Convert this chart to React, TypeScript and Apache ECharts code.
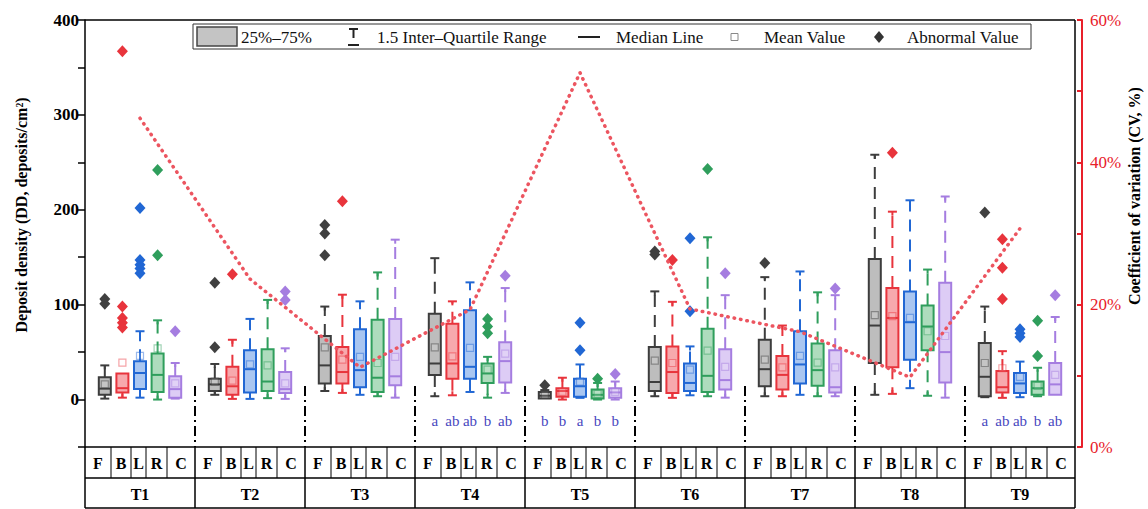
import React, { useEffect, useRef } from 'react';
import * as echarts from 'echarts';

// ---------------- data ----------------
const groups = ['T1', 'T2', 'T3', 'T4', 'T5', 'T6', 'T7', 'T8', 'T9'];
const subs = ['F', 'B', 'L', 'R', 'C'];

// each row: [low cap, Q1, median, Q3, high cap, mean]
const statsF = [
  [1, 5, 11.5, 23.5, 36, 16],
  [5, 9, 16, 22, 37.5, 19],
  [9, 17, 36, 67, 98, 55],
  [3.5, 26, 38, 90.5, 149, 55],
  [0.5, 1, 4, 8, 10, 5],
  [3.5, 9, 18.5, 55.5, 114, 41],
  [3.5, 14, 32, 63, 129, 42],
  [5, 38.5, 78, 148, 258, 89],
  [2.5, 3.5, 24, 59.5, 98, 38.5],
];
const statsB = [
  [2, 7.5, 12, 27.5, 27.5, 39],
  [0.7, 5, 14, 34.5, 63, 20],
  [7, 17, 29, 55.5, 110.5, 42],
  [4.5, 22, 38, 80, 103.5, 45.5],
  [0, 3, 9, 12, 23, 8],
  [1.8, 7, 29, 56, 103, 38.5],
  [3.5, 10.5, 26, 46, 78, 34],
  [6, 34, 86, 117.5, 198, 88],
  [1.8, 7.5, 13, 30, 51, 33],
];
const statsL = [
  [2, 11, 28, 40.5, 72, 46],
  [0.7, 7.5, 32, 52, 85, 37],
  [5, 13, 31, 74, 103.5, 45],
  [8, 22, 34.5, 94, 123.5, 54.5],
  [1.8, 3, 14, 22, 37, 19],
  [4.5, 9, 17.5, 38, 56, 31.5],
  [5, 17, 37, 72, 135, 46],
  [12, 42, 81.5, 114, 210, 86],
  [2.5, 7, 17, 28, 40, 24],
];
const statsR = [
  [0, 8, 26, 48.5, 83.5, 54],
  [1.5, 9, 19, 53, 105, 36],
  [3.5, 8, 23, 84, 134, 38.5],
  [2, 17.5, 27.5, 38, 45, 31.5],
  [0, 1, 5, 10.5, 17.5, 6],
  [3.5, 8, 25, 74.5, 171, 51.5],
  [3.5, 14.5, 31, 59, 113, 39],
  [4, 52, 77, 99, 137, 72],
  [3.5, 5, 12, 19, 33.5, 14.5],
];
const statsC = [
  [1, 2, 11, 24.5, 38.5, 17],
  [0.7, 7, 11, 29, 54, 17],
  [2, 15, 24.5, 85, 168.5, 45],
  [7, 18, 40.5, 60.5, 117.5, 48.5],
  [0, 2, 7.5, 12, 19, 8],
  [2, 10.5, 20.5, 53, 110, 34.5],
  [3.5, 7.5, 13, 52, 110, 34],
  [2, 18, 50, 123, 214, 67],
  [4.5, 5, 16, 38.5, 87, 26],
];

// abnormal values per group
const outF = [[106, 101], [123, 55], [184, 175, 152], [], [15], [156, 153], [144], [], [197]];
const outB = [[367, 98, 86, 81, 76], [132], [209], [], [], [147], [], [260], [169, 139, 106]];
const outL = [[202, 147, 142, 138, 133], [], [], [], [81, 52], [170, 93], [], [], [74, 70, 66]];
const outR = [[242, 152], [], [], [85, 77, 70], [22], [243], [], [], [83, 46]];
const outC = [[72], [114, 105], [], [130.5], [27], [133], [117], [], [110]];

// coefficient of variation (%) per group
const cvValues = [46.2, 23.6, 11.2, 19.3, 52.6, 19.4, 16.2, 9.8, 30.7];

// significance letters per group (F, B, L, R, C)
const sigLetters = [
  [], [], [],
  ['a', 'ab', 'ab', 'b', 'ab'],
  ['b', 'b', 'a', 'b', 'b'],
  [], [], [],
  ['a', 'ab', 'ab', 'b', 'ab'],
];

const leftTicks = [0, 100, 200, 300, 400];
const rightTicks = [0, 20, 40, 60];

// ---------------- styling ----------------
const subStyles = [
  { stroke: '#3d3d3d', fill: '#bdbdbd', out: '#404040' },
  { stroke: '#e8343c', fill: '#f7a9ad', out: '#e8343c' },
  { stroke: '#2167d4', fill: '#a9c6f1', out: '#2167d4' },
  { stroke: '#2f9e5c', fill: '#aedcbd', out: '#2f9e5c' },
  { stroke: '#a57de0', fill: '#ddccf5', out: '#a57de0' },
];
const allStats = [statsF, statsB, statsL, statsR, statsC];
const allOut = [outF, outB, outL, outR, outC];

const SERIF = '"Liberation Serif", "Times New Roman", serif';
const RED = '#e8202a';
const LETTER_Y = -23;
const SUB_STEP = 0.16;

const GL = 85;
const GR = 1075;
const GT = 20;
const GB = 447;
const ROW1 = 478;
const ROW2 = 508;
const GW = (GR - GL) / groups.length;
const cellDiv = [26, 46, 61, 82];
const cellCenters = [13, 36, 53.5, 71.5, 96];

const xOf = (g: number, k: number) => g + 0.5 + (k - 2) * SUB_STEP;

function makeRender(stroke: string, fill: string) {
  return (params: any, api: any) => {
    const x = api.value(0);
    const low = api.coord([x, api.value(1)]);
    const q1 = api.coord([x, api.value(2)]);
    const med = api.coord([x, api.value(3)]);
    const q3 = api.coord([x, api.value(4)]);
    const high = api.coord([x, api.value(5)]);
    const mean = api.coord([x, api.value(6)]);
    const cx = q1[0];
    const hw = 6;
    const ch: any[] = [];
    if (high[1] < q3[1] - 0.5) {
      ch.push({ type: 'line', shape: { x1: cx, y1: q3[1], x2: cx, y2: high[1] }, style: { stroke, lineWidth: 2, lineDash: [12, 8] } });
      ch.push({ type: 'line', shape: { x1: cx - 4.5, y1: high[1], x2: cx + 4.5, y2: high[1] }, style: { stroke, lineWidth: 2 } });
      ch.push({ type: 'line', shape: { x1: cx, y1: high[1], x2: cx, y2: high[1] + 4 }, style: { stroke, lineWidth: 2 } });
    }
    if (low[1] > q1[1] + 0.5) {
      ch.push({ type: 'line', shape: { x1: cx, y1: q1[1], x2: cx, y2: low[1] }, style: { stroke, lineWidth: 2, lineDash: [12, 8] } });
      ch.push({ type: 'line', shape: { x1: cx - 4.5, y1: low[1], x2: cx + 4.5, y2: low[1] }, style: { stroke, lineWidth: 2 } });
      ch.push({ type: 'line', shape: { x1: cx, y1: low[1], x2: cx, y2: low[1] - 4 }, style: { stroke, lineWidth: 2 } });
    }
    ch.push({ type: 'rect', shape: { x: cx - hw, y: q3[1], width: 2 * hw, height: Math.max(q1[1] - q3[1], 1) }, style: { fill, stroke, lineWidth: 2 } });
    ch.push({ type: 'line', shape: { x1: cx - hw, y1: med[1], x2: cx + hw, y2: med[1] }, style: { stroke, lineWidth: 2 } });
    ch.push({ type: 'rect', shape: { x: cx - 3.5, y: mean[1] - 3.5, width: 7, height: 7 }, style: { fill: 'rgba(255,255,255,0.3)', stroke, opacity: 0.45, lineWidth: 1.2 } });
    return { type: 'group', children: ch };
  };
}

function buildGraphics() {
  const els: any[] = [];
  const black = '#000';
  // frame
  els.push({ type: 'line', shape: { x1: GL, y1: GT, x2: GR, y2: GT }, style: { stroke: black, lineWidth: 1.5 } });
  els.push({ type: 'line', shape: { x1: GR, y1: GT, x2: GR, y2: ROW2 }, style: { stroke: black, lineWidth: 1.5 } });
  els.push({ type: 'line', shape: { x1: GL, y1: GB, x2: GL, y2: ROW2 }, style: { stroke: black, lineWidth: 1.5 } });
  // table horizontals
  [GB, ROW1, ROW2].forEach((y) => {
    els.push({ type: 'line', shape: { x1: GL, y1: y, x2: GR, y2: y }, style: { stroke: black, lineWidth: 1.5 } });
  });
  groups.forEach((name, g) => {
    const g0 = GL + g * GW;
    if (g > 0) {
      els.push({ type: 'line', shape: { x1: g0, y1: GB, x2: g0, y2: ROW2 }, style: { stroke: black, lineWidth: 1.5 } });
      els.push({ type: 'line', shape: { x1: g0, y1: 386, x2: g0, y2: GB }, style: { stroke: black, lineWidth: 2, lineDash: [10, 4, 2, 4] } });
    }
    cellDiv.forEach((d) => {
      els.push({ type: 'line', shape: { x1: g0 + d, y1: GB, x2: g0 + d, y2: ROW1 }, style: { stroke: black, lineWidth: 1 } });
    });
    subs.forEach((s, k) => {
      els.push({ type: 'text', x: g0 + cellCenters[k], y: (GB + ROW1) / 2 + 1, style: { text: s, fill: black, font: `bold 16px ${SERIF}`, align: 'center', verticalAlign: 'middle', textAlign: 'center', textVerticalAlign: 'middle' } });
    });
    els.push({ type: 'text', x: g0 + GW / 2, y: (ROW1 + ROW2) / 2 + 1, style: { text: name, fill: black, font: `bold 16px ${SERIF}`, align: 'center', verticalAlign: 'middle', textAlign: 'center', textVerticalAlign: 'middle' } });
  });
  // axis titles
  els.push({ type: 'text', x: 21, y: 215, rotation: Math.PI / 2, style: { text: 'Deposit density (DD, deposits/cm²)', fill: black, font: `bold 16px ${SERIF}`, align: 'center', verticalAlign: 'middle', textAlign: 'center', textVerticalAlign: 'middle' } });
  els.push({ type: 'text', x: 1134, y: 196, rotation: Math.PI / 2, style: { text: 'Coefficient of variation (CV, %)', fill: black, font: `bold 16px ${SERIF}`, align: 'center', verticalAlign: 'middle', textAlign: 'center', textVerticalAlign: 'middle' } });
  // legend
  const ly = 37;
  const lt = (text: string, x: number) => ({ type: 'text', x, y: ly, style: { text, fill: '#111', font: `17px ${SERIF}`, align: 'left', verticalAlign: 'middle', textAlign: 'left', textVerticalAlign: 'middle' } });
  els.push({ type: 'rect', shape: { x: 193, y: 24, width: 838, height: 25 }, style: { fill: '#fff', stroke: '#333', lineWidth: 1 } });
  els.push({ type: 'rect', shape: { x: 197, y: 27, width: 40, height: 19 }, style: { fill: '#c4c4c4', stroke: '#444', lineWidth: 1.5 } });
  els.push(lt('25%–75%', 241));
  els.push({ type: 'line', shape: { x1: 349, y1: 29, x2: 358, y2: 29 }, style: { stroke: '#222', lineWidth: 2 } });
  els.push({ type: 'line', shape: { x1: 353.5, y1: 29, x2: 353.5, y2: 38 }, style: { stroke: '#222', lineWidth: 2 } });
  els.push({ type: 'line', shape: { x1: 348, y1: 45, x2: 359, y2: 45 }, style: { stroke: '#222', lineWidth: 2 } });
  els.push(lt('1.5 Inter–Quartile Range', 377));
  els.push({ type: 'line', shape: { x1: 578, y1: ly, x2: 600, y2: ly }, style: { stroke: '#222', lineWidth: 2 } });
  els.push(lt('Median Line', 616));
  els.push({ type: 'rect', shape: { x: 731, y: ly - 3.5, width: 7, height: 7 }, style: { fill: 'none', stroke: '#888', lineWidth: 1 } });
  els.push(lt('Mean Value', 764));
  els.push({ type: 'polygon', shape: { points: [[879, ly - 6], [884, ly], [879, ly + 6], [874, ly]] }, style: { fill: '#333' } });
  els.push(lt('Abnormal Value', 907));
  return els;
}

export default function App() {
  const ref = useRef<HTMLDivElement>(null);
  useEffect(() => {
    if (!ref.current) return;
    const chart = echarts.init(ref.current, null, { renderer: 'svg' });
    const series: any[] = [];
    allStats.forEach((st, k) => {
      const sty = subStyles[k];
      series.push({
        type: 'custom',
        name: subs[k],
        renderItem: makeRender(sty.stroke, sty.fill),
        encode: { x: 0, y: [1, 2, 3, 4, 5, 6] },
        data: st.map((r, g) => [xOf(g, k), ...r]),
        z: 2,
      });
    });
    allOut.forEach((og, k) => {
      const pts: number[][] = [];
      og.forEach((vals, g) => vals.forEach((v) => pts.push([xOf(g, k), v])));
      series.push({
        type: 'scatter',
        data: pts,
        symbol: 'diamond',
        symbolSize: [11, 12],
        itemStyle: { color: subStyles[k].out, opacity: 1 },
        z: 3,
      });
    });
    const letterTexts: string[] = [];
    const letterData: number[][] = [];
    sigLetters.forEach((arr, g) => arr.forEach((t, k) => { letterTexts.push(t); letterData.push([xOf(g, k), LETTER_Y]); }));
    series.push({
      type: 'custom',
      renderItem: (params: any, api: any) => {
        const p = api.coord([api.value(0), api.value(1)]);
        return { type: 'text', x: p[0], y: p[1], style: { text: letterTexts[params.dataIndex], fill: '#4848c0', font: `15px ${SERIF}`, align: 'center', verticalAlign: 'middle', textAlign: 'center', textVerticalAlign: 'middle' } };
      },
      encode: { x: 0, y: 1 },
      data: letterData,
      z: 4,
    });
    series.push({
      type: 'line',
      yAxisIndex: 1,
      data: cvValues.map((v, g) => [g + 0.5, v]),
      symbol: 'none',
      lineStyle: { color: '#ec5560', width: 3.5, type: [0.5, 6], cap: 'round' },
      z: 5,
    });

    chart.setOption({
      animation: false,
      backgroundColor: '#fff',
      grid: { left: GL, right: 1148 - GR, top: GT, bottom: 509 - GB, containLabel: false },
      xAxis: { type: 'value', min: 0, max: 9, show: false },
      yAxis: [
        {
          type: 'value', min: -50, max: 400, interval: 50,
          axisLine: { show: true, lineStyle: { color: '#000', width: 1.5 } },
          axisTick: { show: true, length: 7, lineStyle: { color: '#000', width: 1.5 } },
          axisLabel: {
            formatter: (v: number) => (leftTicks.includes(v) ? String(v) : ''),
            color: '#000', fontFamily: SERIF, fontWeight: 'bold', fontSize: 17, margin: 6,
          },
          splitLine: { show: false },
        },
        {
          type: 'value', min: 0, max: 60, interval: 10, position: 'right', offset: 7,
          axisLine: { show: true, lineStyle: { color: RED, width: 2 } },
          axisTick: { show: true, inside: true, length: 5, lineStyle: { color: RED, width: 2 } },
          axisLabel: {
            formatter: (v: number) => (rightTicks.includes(v) ? v + '%' : ''),
            color: RED, fontFamily: SERIF, fontSize: 17, margin: 8,
          },
          splitLine: { show: false },
        },
      ],
      graphic: buildGraphics(),
      series,
    });
    return () => chart.dispose();
  }, []);
  return <div ref={ref} style={{ position: 'fixed', left: 0, top: 0, width: 1148, height: 509, background: '#fff' }} />;
}
